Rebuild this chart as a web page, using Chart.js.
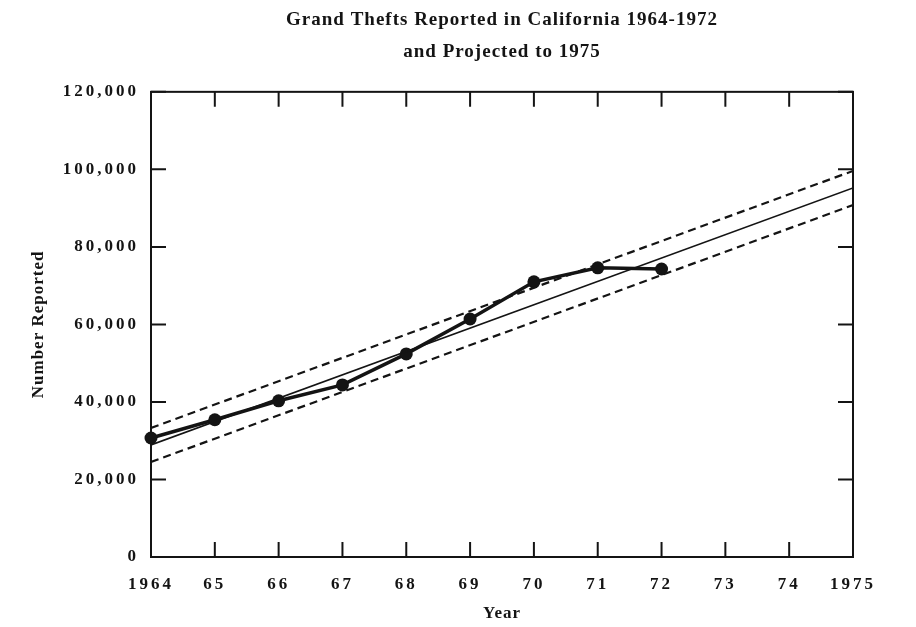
<!DOCTYPE html>
<html>
<head>
<meta charset="utf-8">
<script src="https://cdn.jsdelivr.net/npm/chart.js@4.4.0/dist/chart.umd.min.js"></script>
<style>
  html, body { margin: 0; padding: 0; background: #fff; }
  #wrap { width: 916px; height: 627px; }
</style>
</head>
<body>
<div id="wrap"><canvas id="chart"></canvas></div>
<script>
// ===== DATA =====
const years = [1964, 1965, 1966, 1967, 1968, 1969, 1970, 1971, 1972];
const reported = [30700, 35400, 40300, 44400, 52400, 61400, 71000, 74600, 74300];

// fitted trend and its limits, 1964 -> 1975
const trendYears = [1964, 1975];
const trendLine = [28900, 95200];
const upperLimit = [33300, 99600];
const lowerLimit = [24500, 90800];

const yearTicks = ["1964", "65", "66", "67", "68", "69", "70", "71", "72", "73", "74", "1975"];
const valueTicks = ["0", "20,000", "40,000", "60,000", "80,000", "100,000", "120,000"];

// ===== HELPERS =====
const INK = "#141414";
const SERIF = "'Liberation Serif', 'Times New Roman', serif";

function toPoints(xs, ys) {
  return xs.map((x, i) => ({ x: x, y: ys[i] }));
}

// frame with inward ticks on all four sides + letter spacing for the typewriter look
const framePlugin = {
  id: "frame",
  beforeDraw(chart) {
    chart.ctx.letterSpacing = "1px";
  },
  afterDatasetsDraw(chart) {
    chart.ctx.letterSpacing = "3px";
  },
  afterDraw(chart) {
    const { ctx, chartArea: a, scales: { x, y } } = chart;
    const len = 15;
    ctx.save();
    ctx.letterSpacing = "0px";
    ctx.strokeStyle = INK;
    ctx.lineWidth = 2;
    ctx.strokeRect(a.left, a.top, a.right - a.left, a.bottom - a.top);
    ctx.beginPath();
    x.ticks.forEach(t => {
      const px = x.getPixelForValue(t.value);
      ctx.moveTo(px, a.bottom); ctx.lineTo(px, a.bottom - len);
      ctx.moveTo(px, a.top); ctx.lineTo(px, a.top + len);
    });
    y.ticks.forEach(t => {
      const py = y.getPixelForValue(t.value);
      ctx.moveTo(a.left, py); ctx.lineTo(a.left + len, py);
      ctx.moveTo(a.right, py); ctx.lineTo(a.right - len, py);
    });
    ctx.stroke();
    ctx.restore();
  }
};

// ===== CHART =====
const ctx = document.getElementById("chart").getContext("2d");

const chart = new Chart(ctx, {
  type: "line",
  data: {
    datasets: [
      {
        label: "Upper limit",
        data: toPoints(trendYears, upperLimit),
        borderColor: INK,
        borderWidth: 2.2,
        borderDash: [8, 5],
        pointRadius: 0
      },
      {
        label: "Lower limit",
        data: toPoints(trendYears, lowerLimit),
        borderColor: INK,
        borderWidth: 2.2,
        borderDash: [8, 5],
        pointRadius: 0
      },
      {
        label: "Trend",
        data: toPoints(trendYears, trendLine),
        borderColor: INK,
        borderWidth: 1.6,
        pointRadius: 0
      },
      {
        label: "Grand thefts reported",
        data: toPoints(years, reported),
        borderColor: INK,
        borderWidth: 3.5,
        pointRadius: 6.5,
        pointBackgroundColor: INK,
        pointBorderColor: INK,
        pointBorderWidth: 0,
        clip: false
      }
    ]
  },
  options: {
    responsive: true,
    maintainAspectRatio: false,
    animation: false,
    layout: { padding: { top: 0, right: 63, bottom: 0, left: 0 } },
    plugins: {
      legend: { display: false },
      tooltip: { enabled: false },
      title: {
        display: true,
        fullSize: false,
        text: ["Grand Thefts Reported in California 1964-1972", "and Projected to 1975"],
        color: INK,
        font: { family: SERIF, size: 19, weight: "bold", lineHeight: 1.68 },
        padding: { top: 4, bottom: 24 }
      }
    },
    scales: {
      x: {
        type: "linear",
        min: 1964,
        max: 1975,
        grid: { display: false, drawTicks: false },
        border: { display: false },
        ticks: {
          stepSize: 1,
          autoSkip: false,
          maxRotation: 0,
          padding: 17,
          z: 1,
          color: INK,
          font: { family: SERIF, size: 17, weight: "bold" },
          callback: v => yearTicks[Math.round(v - 1964)]
        },
        title: {
          display: true,
          text: "Year",
          color: INK,
          font: { family: SERIF, size: 17, weight: "bold" },
          padding: { top: 0, bottom: 3 }
        },
        afterFit: s => { s.height = 70; }
      },
      y: {
        min: 0,
        max: 120000,
        grid: { display: false, drawTicks: false },
        border: { display: false },
        ticks: {
          stepSize: 20000,
          padding: 12,
          z: 1,
          color: INK,
          font: { family: SERIF, size: 17, weight: "bold" },
          callback: v => valueTicks[Math.round(v / 20000)]
        },
        title: {
          display: true,
          text: "Number Reported",
          color: INK,
          font: { family: SERIF, size: 17, weight: "bold" },
          padding: { top: 28, bottom: 0 }
        },
        afterFit: s => { s.width = 151; }
      }
    }
  },
  plugins: [framePlugin]
});
</script>
</body>
</html>
